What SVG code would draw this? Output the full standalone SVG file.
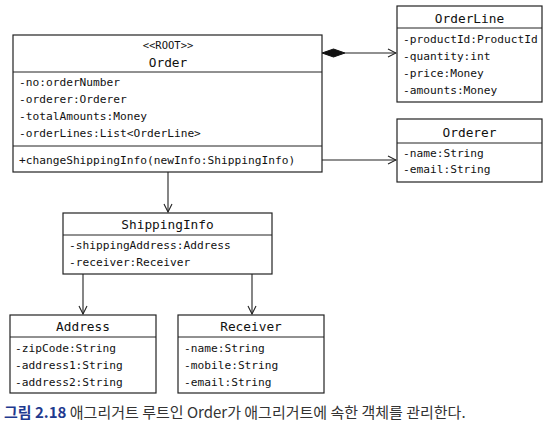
<svg xmlns="http://www.w3.org/2000/svg" width="558" height="434" viewBox="0 0 558 434">
<style>
.box{fill:#fff;stroke:#222;stroke-width:1.2}
.div{stroke:#222;stroke-width:1}
.t{font-family:"DejaVu Sans Mono","Liberation Mono",monospace;font-size:12.8px;fill:#111;text-anchor:middle}
.a{font-family:"DejaVu Sans Mono","Liberation Mono",monospace;font-size:11.2px;fill:#111}
.s{font-family:"DejaVu Sans Mono","Liberation Mono",monospace;font-size:10.5px;fill:#111;text-anchor:middle}
.c{stroke:#222;stroke-width:1.1;fill:none}
.cap{font-family:"Noto Sans CJK KR","Noto Sans",sans-serif;font-size:15px;fill:#333}
</style>
<defs>
<marker id="open" markerWidth="10" markerHeight="10" refX="9" refY="5" orient="auto" markerUnits="userSpaceOnUse">
<path d="M1,1 L9,5 L1,9" fill="none" stroke="#222" stroke-width="1.1"/>
</marker>
</defs>
<rect width="558" height="434" fill="#fff"/>
<g id="connectors">
<path class="c" d="M345,53 L396,53" marker-end="url(#open)"/>
<path d="M322,53 L333.5,49 L345,53 L333.5,57 Z" fill="#111" stroke="#111" stroke-width="1"/>
<path class="c" d="M322,160 L396,160" marker-end="url(#open)"/>
<path class="c" d="M168,172 L168,212" marker-end="url(#open)"/>
<path class="c" d="M83,274 L83,314" marker-end="url(#open)"/>
<path class="c" d="M252,274 L252,314" marker-end="url(#open)"/>
</g>
<g id="Order">
<rect class="box" x="13" y="35" width="309" height="137"/>
<line class="div" x1="13" y1="72" x2="322" y2="72"/>
<line class="div" x1="13" y1="146" x2="322" y2="146"/>
<text class="s" x="168" y="49">&lt;&lt;ROOT&gt;&gt;</text>
<text class="t" x="168" y="67">Order</text>
<text class="a" x="19" y="86">-no:orderNumber</text>
<text class="a" x="19" y="103">-orderer:Orderer</text>
<text class="a" x="19" y="120">-totalAmounts:Money</text>
<text class="a" x="19" y="137">-orderLines:List&lt;OrderLine&gt;</text>
<text class="a" x="19" y="164">+changeShippingInfo(newInfo:ShippingInfo)</text>
</g>
<g id="OrderLine">
<rect class="box" x="397" y="6" width="145" height="96"/>
<line class="div" x1="397" y1="28" x2="542" y2="28"/>
<text class="t" x="469.5" y="23">OrderLine</text>
<text class="a" x="403" y="43">-productId:ProductId</text>
<text class="a" x="403" y="60">-quantity:int</text>
<text class="a" x="403" y="77">-price:Money</text>
<text class="a" x="403" y="94">-amounts:Money</text>
</g>
<g id="Orderer">
<rect class="box" x="397" y="119" width="145" height="63"/>
<line class="div" x1="397" y1="143" x2="542" y2="143"/>
<text class="t" x="469.5" y="137">Orderer</text>
<text class="a" x="403" y="157">-name:String</text>
<text class="a" x="403" y="173">-email:String</text>
</g>
<g id="ShippingInfo">
<rect class="box" x="63" y="213" width="209" height="61"/>
<line class="div" x1="63" y1="235" x2="272" y2="235"/>
<text class="t" x="167.5" y="229">ShippingInfo</text>
<text class="a" x="69" y="249">-shippingAddress:Address</text>
<text class="a" x="69" y="266">-receiver:Receiver</text>
</g>
<g id="Address">
<rect class="box" x="10" y="315" width="146" height="78"/>
<line class="div" x1="10" y1="337" x2="156" y2="337"/>
<text class="t" x="83" y="331">Address</text>
<text class="a" x="15" y="352">-zipCode:String</text>
<text class="a" x="15" y="369">-address1:String</text>
<text class="a" x="15" y="386">-address2:String</text>
</g>
<g id="Receiver">
<rect class="box" x="178" y="315" width="146" height="78"/>
<line class="div" x1="178" y1="337" x2="324" y2="337"/>
<text class="t" x="251" y="331">Receiver</text>
<text class="a" x="184" y="352">-name:String</text>
<text class="a" x="184" y="369">-mobile:String</text>
<text class="a" x="184" y="386">-email:String</text>
</g>
<text class="cap" x="4" y="418"><tspan fill="#1f3a8f" font-weight="bold">그림 2.18</tspan> 애그리거트 루트인 Order가 애그리거트에 속한 객체를 관리한다.</text>
</svg>
